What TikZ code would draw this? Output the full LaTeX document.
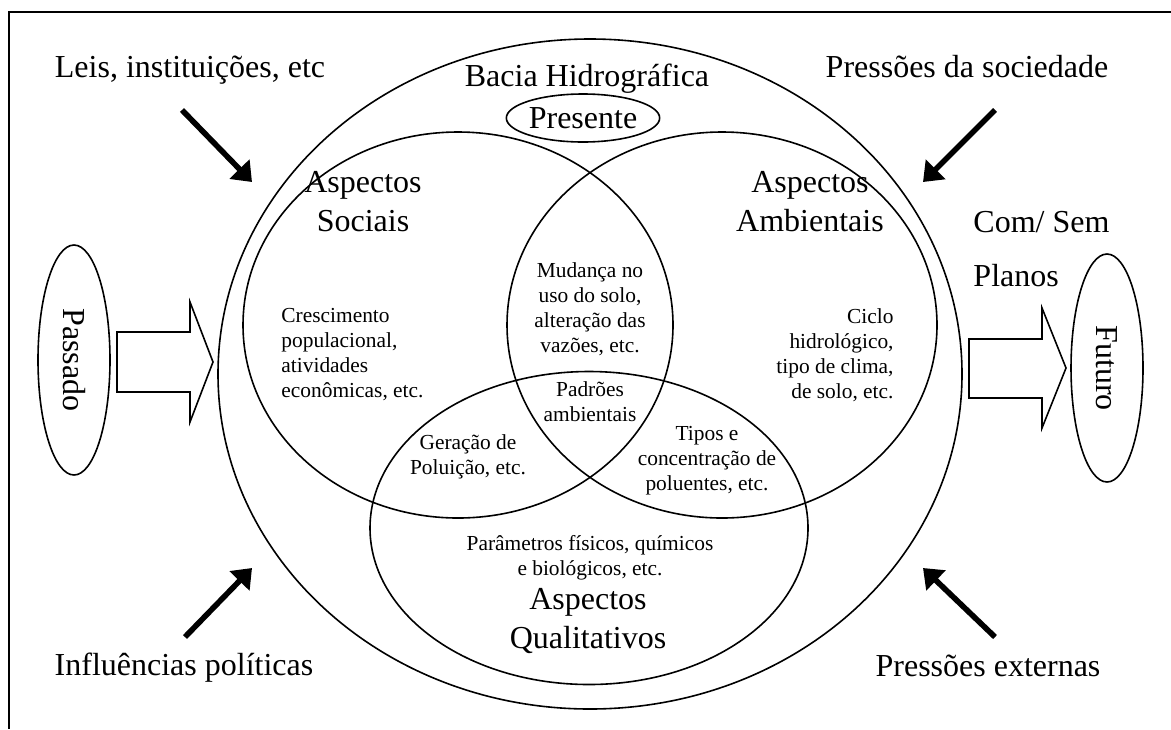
\documentclass[tikz,border=0pt]{standalone}
\usepackage{fontspec}
\setmainfont{Liberation Serif}
\usetikzlibrary{shapes.geometric,arrows.meta}

\begin{document}
\begin{tikzpicture}[x=0.5pt, y=-0.5pt, line width=0.8pt,
    ring/.style = {draw, ellipse, inner sep=0pt},
    big/.style = {font=\fontsize{16}{19.5}\selectfont, align=center},
    small/.style = {font=\fontsize{10.7}{12.5}\selectfont},
    push/.style = {line width=2.8pt, -{Triangle[length=9pt,width=13.5pt]}},
    block/.style = {draw, line width=0.8pt, line join=miter}]
    \useasboundingbox (0,0) rectangle (1171,729);
    \draw[line width=1pt] (1171,12) -- (9,12) -- (9,729);

    \node[ring, minimum width=372pt, minimum height=335pt](bacia) at (590,374) {};
    \node[ring, minimum width=215pt, minimum height=193pt](sociais) at (458,325) {};
    \node[ring, minimum width=215pt, minimum height=193pt](ambientais) at (722,325) {};
    \node[ring, minimum width=219pt, minimum height=156.5pt](qualitativos) at (589,528) {};
    \node[ring, minimum width=75pt, minimum height=24pt, big](presente) at (583,118) {Presente};
    \node[ring, minimum width=115pt, minimum height=36pt, big, rotate=-90](passado) at (74,360) {Passado};
    \node[ring, minimum width=114pt, minimum height=36pt, big, rotate=-90](futuro) at (1107,368) {Futuro};

    \node[big, anchor=base](titulo) at (587,86) {Bacia Hidrográfica};
    \node[big, anchor=base](leis) at (190,77) {Leis, instituições, etc};
    \node[big, anchor=base](sociedade) at (967,77) {Pressões da sociedade};
    \node[big, anchor=base](politicas) at (184,675) {Influências políticas};
    \node[big, anchor=base](externas) at (988,676) {Pressões externas};
    \node[big](asoc) at (363,202) {Aspectos\\Sociais};
    \node[big](aamb) at (810,202) {Aspectos\\Ambientais};
    \node[big](aqual) at (588,621) {Aspectos\\Qualitativos};
    \node[big, align=left, anchor=west, font=\fontsize{16}{27}\selectfont](planos) at (966,249) {Com/ Sem\\Planos};

    \node[small, align=left, anchor=west](crescimento) at (274,355) {Crescimento\\populacional,\\atividades\\econômicas, etc.};
    \node[small, align=center](mudanca) at (590,309) {Mudança no\\uso do solo,\\alteração das\\vazões, etc.};
    \node[small, align=right, anchor=east](ciclo) at (901,355) {Ciclo\\hidrológico,\\tipo de clima,\\de solo, etc.};
    \node[small, align=center](padroes) at (590,402) {Padrões\\ambientais};
    \node[small, align=center](geracao) at (468,457) {Geração de\\Poluição, etc.};
    \node[small, align=center](tipos) at (707,461) {Tipos e\\concentração de\\poluentes, etc.};
    \node[small, align=center](parametros) at (590,558) {Parâmetros físicos, químicos\\e biológicos, etc.};

    \coordinate (leis-tail) at (182,110);
    \coordinate (leis-tip) at (252,182);
    \coordinate (sociedade-tail) at (995,110);
    \coordinate (sociedade-tip) at (923,182);
    \coordinate (politicas-tail) at (185,637);
    \coordinate (politicas-tip) at (252,568);
    \coordinate (externas-tail) at (995,637);
    \coordinate (externas-tip) at (923,568);
    \draw[push] (leis-tail) -- (leis-tip);
    \draw[push] (sociedade-tail) -- (sociedade-tip);
    \draw[push] (politicas-tail) -- (politicas-tip);
    \draw[push] (externas-tail) -- (externas-tip);

    \draw[block] (117,332) -- (190,332) -- (190,302) -- (213,362) -- (190,422) -- (190,392) -- (117,392) -- cycle;
    \draw[block] (969,339) -- (1042,339) -- (1042,308) -- (1066,368) -- (1042,428) -- (1042,398) -- (969,398) -- cycle;
\end{tikzpicture}
\end{document}
